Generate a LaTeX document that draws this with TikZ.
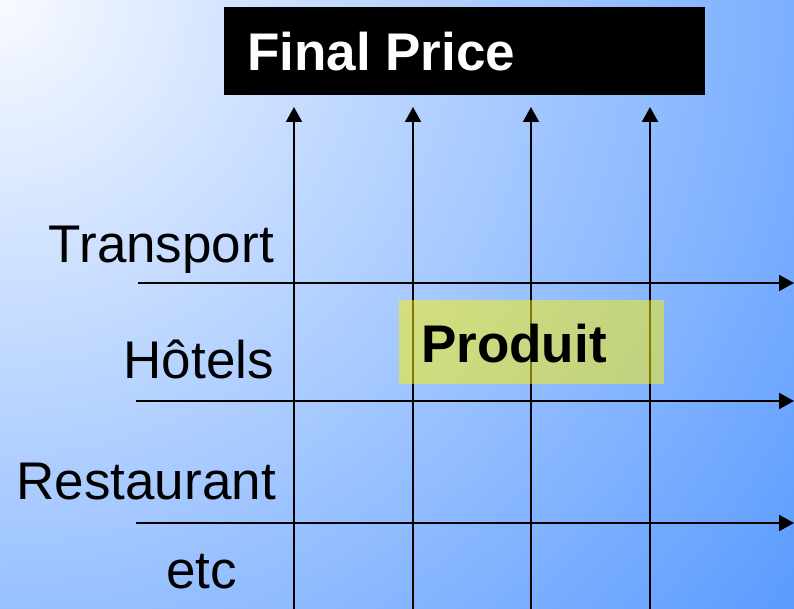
\documentclass[tikz,border=0pt]{standalone}
\usepackage{fontspec}
\setmainfont{Liberation Sans}
\usetikzlibrary{arrows.meta}
\definecolor{bginner}{HTML}{F8FAFF}
\definecolor{bgouter}{HTML}{5A9BFF}
\tikzset{
  axis/.style={line width=2pt, -{Triangle[length=15pt,width=16pt]}},
  rowlabel/.style={anchor=base east, inner sep=0pt, font=\fontsize{53}{60}\selectfont},
  titlebox/.style={fill=black, minimum width=481pt, minimum height=88pt, inner sep=0pt},
  prodbox/.style={fill=yellow, fill opacity=0.5, minimum width=265pt, minimum height=84pt, inner sep=0pt},
  boldtext/.style={anchor=base west, inner sep=0pt, font=\fontsize{53}{60}\selectfont\bfseries}
}
\begin{document}
\begin{tikzpicture}[x=1pt, y=-1pt]
  % page frame and soft background
  \useasboundingbox (0,0) rectangle (794,609);
  \begin{scope}
    \clip (0,0) rectangle (794,609);
    \fill[bgouter] (0,0) rectangle (794,609);
    \shade[inner color=bginner, outer color=bgouter] (0,0) circle (1000);
  \end{scope}

  % title box
  \node[titlebox, anchor=north west] (final) at (224,7) {};
  \node[boldtext, text=white] (finaltxt) at (247,71) {Final Price};

  % column arrows pointing to the title
  \foreach \i/\x in {1/294, 2/413, 3/531, 4/650} {
    \coordinate (cb\i) at (\x,612);
    \coordinate (ct\i) at (\x,107);
    \draw[axis] (cb\i) -- (ct\i);
  }

  % row arrows
  \coordinate (r1s) at (138,283);  \coordinate (r1e) at (794,283);
  \coordinate (r2s) at (136,401);  \coordinate (r2e) at (794,401);
  \coordinate (r3s) at (136,523);  \coordinate (r3e) at (794,523);
  \draw[axis] (r1s) -- (r1e);
  \draw[axis] (r2s) -- (r2e);
  \draw[axis] (r3s) -- (r3e);

  % row labels
  \node[rowlabel] (transport) at (274,262) {Transport};
  \node[rowlabel] (hotels) at (274,378) {Hôtels};
  \node[rowlabel] (restaurant) at (276,499) {Restaurant};
  \node[rowlabel] (etc) at (237,588) {etc};

  % highlighted product cell
  \node[prodbox, anchor=north west] (prod) at (399,300) {};
  \node[boldtext] (prodtxt) at (421,362) {Produit};
\end{tikzpicture}
\end{document}
